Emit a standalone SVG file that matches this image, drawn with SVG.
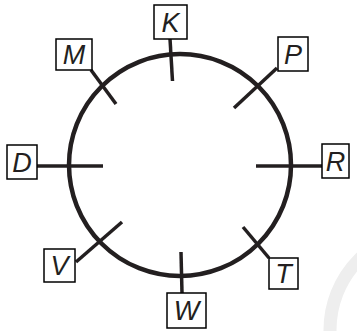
<svg xmlns="http://www.w3.org/2000/svg" width="357" height="331" viewBox="0 0 357 331">
<style>
.box{fill:#fff;stroke:#000;stroke-width:1.5}
.lbl{font-family:"Liberation Sans",Arial,sans-serif;font-style:italic;font-size:27px;fill:#231f20;text-anchor:middle}
.tick{stroke:#231f20;stroke-width:3.5;fill:none}
</style>
<rect width="357" height="331" fill="#fff"/>
<circle cx="430" cy="330" r="100" fill="none" stroke="#eeeeee" stroke-width="13"/>
<g id="connectors">
<circle cx="180" cy="165" r="111" fill="none" stroke="#231f20" stroke-width="4.5"/>
<line class="tick" x1="170" y1="39" x2="172.5" y2="81"/>
<line class="tick" x1="91" y1="70" x2="116" y2="104"/>
<line class="tick" x1="277" y1="68" x2="234" y2="108"/>
<line class="tick" x1="37" y1="166" x2="103" y2="166"/>
<line class="tick" x1="256" y1="166" x2="322" y2="166"/>
<line class="tick" x1="76" y1="262" x2="122" y2="222"/>
<line class="tick" x1="181" y1="252" x2="182" y2="293"/>
<line class="tick" x1="243" y1="227" x2="269" y2="258"/>
</g>
<g id="K"><rect class="box" x="154" y="5" width="33" height="34"/><text class="lbl" x="170.5" y="32">K</text></g>
<g id="M"><rect class="box" x="56" y="39" width="36" height="31"/><text class="lbl" x="74" y="64">M</text></g>
<g id="P"><rect class="box" x="278" y="37" width="30" height="34"/><text class="lbl" x="293" y="64">P</text></g>
<g id="D"><rect class="box" x="7" y="145" width="30" height="34"/><text class="lbl" x="22" y="172">D</text></g>
<g id="R"><rect class="box" x="322" y="144" width="27" height="34"/><text class="lbl" x="335.5" y="171">R</text></g>
<g id="V"><rect class="box" x="44" y="249" width="31" height="33"/><text class="lbl" x="59.5" y="275">V</text></g>
<g id="W"><rect class="box" x="167" y="293" width="39" height="35"/><text class="lbl" x="186.5" y="320">W</text></g>
<g id="T"><rect class="box" x="269" y="258" width="29" height="31"/><text class="lbl" x="283.5" y="283">T</text></g>
</svg>
